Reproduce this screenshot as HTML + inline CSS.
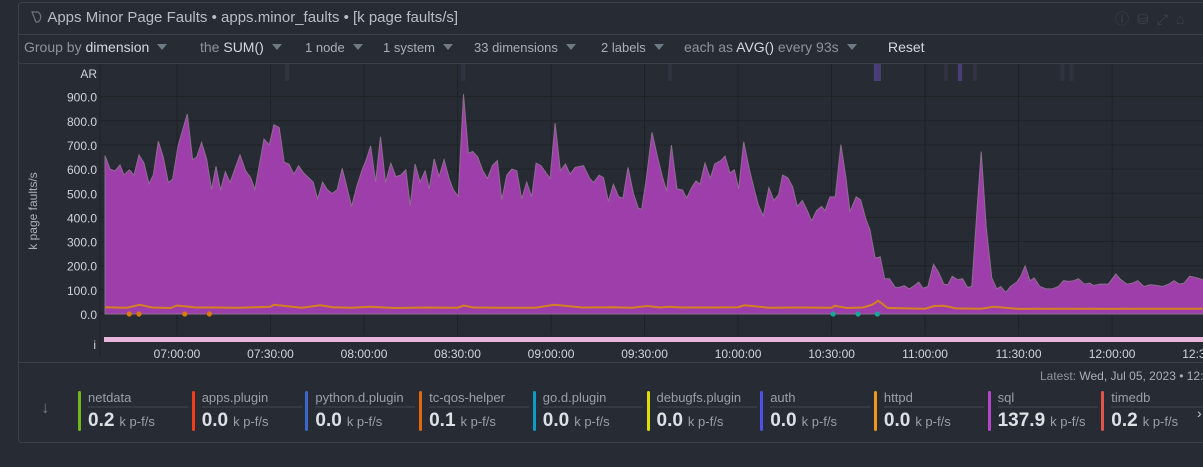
<!DOCTYPE html>
<html><head><meta charset="utf-8">
<style>
*{margin:0;padding:0;box-sizing:border-box}
body{width:1203px;height:467px;background:#272b33;font-family:"Liberation Sans",sans-serif;overflow:hidden;position:relative;color:#c9ced6}
.card{position:absolute;left:18px;top:2px;width:1200px;height:441px;border:1px solid #3b4049;border-radius:4px;background:#272b33}
.abs{position:absolute;white-space:nowrap}
.tb{font-size:14px;color:#8e949c;top:39px}
.tb b{font-weight:normal;color:#d5d9df}
.caret{display:inline-block;width:0;height:0;border-left:5px solid transparent;border-right:5px solid transparent;border-top:6px solid #6f7a85;margin-left:8px;vertical-align:2px}
.leg{position:absolute;top:390px;width:110px}
.leg .bar{position:absolute;left:0;top:1px;width:3px;height:40px;border-radius:2px}
.leg .nm{position:absolute;left:10px;top:0;font-size:13px;color:#9aa0a8;width:100px;border-bottom:2px solid #353a42;padding-bottom:1px}
.leg .vl{position:absolute;left:10px;top:20px;font-size:19px;font-weight:bold;color:#dde1e6}
.leg .vl span{font-size:13px;font-weight:normal;color:#9aa0a8;margin-left:5px}
</style></head><body>
<div class="card"></div>
<div class="abs" style="left:30px;top:9px;font-size:15px;color:#b9bec6">
<svg width="14" height="14" style="vertical-align:-2px"><path d="M2 2 L8 2 A6 6 0 0 1 8 12 L6 12 Z" fill="none" stroke="#6f757d" stroke-width="1.2"/></svg> Apps Minor Page Faults • apps.minor_faults • [k page faults/s]</div>
<div class="abs" style="left:1115px;top:9px;font-size:14px;color:#3f454d;letter-spacing:8px">ⓘ⛁⤢⌂</div>
<div class="abs" style="left:18px;top:34px;width:1185px;height:1px;background:#3b4049"></div>
<div class="abs" style="left:18px;top:63px;width:1185px;height:1px;background:#3b4049"></div>
<div class="abs tb" style="left:24px">Group by <b>dimension</b><span class="caret"></span></div>
<div class="abs tb" style="left:200px">the <b>SUM()</b><span class="caret"></span></div>
<div class="abs tb" style="left:305px;font-size:13px;top:40px;color:#aab0b8">1 node<span class="caret"></span></div>
<div class="abs tb" style="left:383px;font-size:13px;top:40px;color:#aab0b8">1 system<span class="caret"></span></div>
<div class="abs tb" style="left:474px;font-size:13px;top:40px;color:#aab0b8">33 dimensions<span class="caret"></span></div>
<div class="abs tb" style="left:601px;font-size:13px;top:40px;color:#aab0b8">2 labels<span class="caret"></span></div>
<div class="abs tb" style="left:684px">each as <b>AVG()</b> every 93s<span class="caret"></span></div>
<div class="abs tb" style="left:888px;color:#d5d9df">Reset</div>
<div class="abs" style="left:-17px;top:204px;font-size:12px;color:#aab0b8;transform:rotate(-90deg);width:100px;text-align:center">k page faults/s</div>
<svg id="ch" class="abs" style="left:0;top:0" width="1203" height="467"></svg>
<div class="abs" style="left:18px;top:362px;width:1185px;height:1px;background:#3b4049"></div>
<div class="abs" style="left:1040px;top:369px;font-size:12px;color:#8e949c">Latest: <span style="color:#aab0b8">Wed, Jul 05, 2023 • 12:36:25</span></div>
<div class="abs" style="left:41px;top:398px;font-size:17px;color:#6f7a85">↓</div>
<div id="legend"></div>
<div class="abs" style="left:1197px;top:405px;font-size:14px;color:#c9ced6">›</div>
<script>
// chart data (minutes relative to 07:00, values in k page faults/s)
const sqlTimes=[-23.1,-21.5,-19.9,-18.3,-17,-15.3,-13.8,-12.2,-10.6,-9,-7.6,-6,-4.4,-2.8,-1.4,0.4,3.3,5,6.3,7.9,9.5,11.1,12.5,14,15.5,17,20.2,22,23.6,25,27.9,29.6,31.1,32.8,34.4,35.9,37.5,39,40.5,43.7,45.1,46.7,48.2,49.8,51.4,53,54.4,56,57.7,59.3,60.9,62.1,63.7,65.3,66.9,68.6,70.2,71.8,73.4,74.8,76.4,78,79.6,80.9,82.5,84.1,85.7,87.3,88.6,90.2,91.9,93.5,94.9,96.5,98.1,99.6,101.2,102.8,104.2,105.8,107.4,109,110.6,112.2,113.8,115.2,116.8,119.7,121.3,123,124.6,126.1,127.7,130.4,132.4,133.7,135.4,136.8,138.4,140,141.7,143.1,144.7,146.4,148,149.1,150.7,152.4,154.2,155.8,157.1,158.6,160.4,162.2,163.5,165.1,166.5,167.8,169.4,171.1,172.5,174.5,175.8,177.4,178.8,180.2,181.8,183.6,185.2,186.5,188.1,189.9,191.5,193,194.3,195.9,197.5,199,200.6,202.2,203.6,205.2,206.8,207.9,209.5,211.2,213,214.6,215.9,217.9,219.3,221,222.3,224,225.6,227,228.6,230.4,231.7,233.3,234.9,236.6,238,239.3,240.9,242.7,244.3,246,247.3,248.7,250.4,252,253.6,255,256.6,258,259.6,261.4,263,264.3,265.9,267.4,269.4,270.7,272.1,273.7,275,276.8,278.8,280.8,282.8,284.4,286.1,287.7,289.2,291.1,292.8,294.1,296.1,298.8,301.2,302.8,304.8,306.6,308.2,310.2,312.2,314.6,316.2,318.2,319.9,321.5,323.1,324.9,326.6,329.3];
const sqlValues=[656,600,593,617,575,597,575,659,625,539,575,715,649,544,558,699,828,639,649,710,642,515,611,513,589,544,659,593,565,515,724,701,783,772,628,621,579,614,586,546,476,546,515,499,515,603,530,445,530,593,645,696,546,734,544,624,569,575,597,448,621,546,593,518,642,569,639,561,515,487,910,666,673,649,593,561,614,635,473,575,600,593,476,546,485,625,614,561,790,593,621,579,607,614,561,544,575,565,466,537,485,480,607,501,438,434,572,752,649,565,508,699,518,513,480,523,551,537,625,561,621,635,654,583,597,518,713,600,515,452,406,523,470,494,575,565,527,445,470,428,386,428,445,428,485,485,701,565,424,485,473,392,349,231,237,146,146,110,110,117,104,118,132,107,114,206,173,124,121,156,142,146,110,114,417,673,361,149,104,114,90,114,132,156,199,138,149,114,104,104,114,138,135,138,146,124,128,118,124,124,166,142,124,128,138,114,121,118,114,124,138,124,128,156,152,142];
const httpdTimes=[-23,-16,-12,-8,-2,0,6,12,20,30,31,40,46,50,56,62,70,80,90,92,95,105,115,121,130,140,146,151,155,158,162,170,180,182,190,200,210,211,215,220,223,225,228,240,243,246,250,258,262,270,285,300,315,329];
const httpdValues=[28,26,38,27,25,35,27,27,26,30,38,26,36,28,26,30,25,27,26,35,27,26,26,38,27,28,26,33,27,30,27,27,28,36,26,27,26,34,25,27,38,55,25,22,33,34,23,22,30,21,22,21,22,22];
const markerTimes=[-15.3,-12.2,2.5,10.4,210.5,218.5,224.7];
const markerKinds=["orange","orange","orange","orange","teal","teal","teal"];
const yTicks=[0,100,200,300,400,500,600,700,800,900];
const yTickLabels=["0.0","100.0","200.0","300.0","400.0","500.0","600.0","700.0","800.0","900.0"];
const xTicks=[0,30,60,90,120,150,180,210,240,270,300,330];
const xTickLabels=["07:00:00","07:30:00","08:00:00","08:30:00","09:00:00","09:30:00","10:00:00","10:30:00","11:00:00","11:30:00","12:00:00","12:30:00"];
const annTimes=[35.3,91.8,158.2,224.2,225.2,246.7,251.2,256,284,287];
const annStrong=[0,0,0,1,1,0,1,0,0,0];

const NS="http://www.w3.org/2000/svg";
const svg=document.getElementById('ch');
const X=t=>177+t*3.117;
const Y=v=>314-v*0.2415;
function mk(tag,attrs,parent){const e=document.createElementNS(NS,tag);for(const k in attrs)e.setAttribute(k,attrs[k]);(parent||svg).appendChild(e);return e;}
const fr=mk('line',{x1:100,y1:64,x2:100,y2:356,stroke:'#1f2227','stroke-width':1});


yTicks.forEach((v,i)=>{
  const g=mk('line',{x1:100,y1:Y(v),x2:1203,y2:Y(v),stroke:'#1f2227','stroke-width':1});
  
  
  const tx=mk('text',{x:97,y:Y(v)+5,'text-anchor':'end','font-size':12,fill:'#d0d4da','font-family':'Liberation Sans'});
  tx.textContent=yTickLabels[i];
  
  
});
xTicks.forEach((t,i)=>{
  const g=mk('line',{x1:X(t),y1:64,x2:X(t),y2:335,stroke:'#1f2227','stroke-width':1});
  
  
  const tx=mk('text',{x:X(t),y:358,'text-anchor':'middle','font-size':12,fill:'#d0d4da','font-family':'Liberation Sans'});
  tx.textContent=xTickLabels[i];
  
  
});
const ar=mk('text',{x:97,y:78,'text-anchor':'end','font-size':12,fill:'#d0d4da','font-family':'Liberation Sans'});
ar.textContent='AR';


annTimes.forEach((t,i)=>{
  const r=mk('rect',{x:X(t)-2,y:64,width:4,height:17,fill:annStrong[i]?'#4a3e78':'#30323f'});
  
  
});
let d=`M${X(sqlTimes[0])},${Y(0)}`;
sqlTimes.forEach((t,i)=>{d+=` L${X(t).toFixed(1)},${Y(sqlValues[i]).toFixed(1)}`;});
d+=` L${X(sqlTimes[sqlTimes.length-1])},${Y(0)} Z`;
const area=mk('path',{d:d,fill:'#9e3eab',stroke:'#8d6f8f','stroke-width':1});


let d2='';
httpdTimes.forEach((t,i)=>{d2+=(i?' L':'M')+X(t).toFixed(1)+','+Y(httpdValues[i]).toFixed(1);});
const ln=mk('path',{d:d2,fill:'none',stroke:'#d98a12','stroke-width':2,opacity:0.9});


markerTimes.forEach((t,i)=>{
  const c=mk('circle',{cx:X(t),cy:Y(0),r:2.6,fill:markerKinds[i]==='teal'?'#1aa59a':'#d97a0c'});
  
  
});
const st=mk('rect',{x:104,y:337,width:1099,height:5,fill:'#e8b6dc'});


const il=mk('text',{x:96,y:349,'text-anchor':'end','font-size':12,fill:'#d0d4da','font-family':'Liberation Sans'});
il.textContent='i';



const legNames=["netdata","apps.plugin","python.d.plugin","tc-qos-helper","go.d.plugin","debugfs.plugin","auth","httpd","sql","timedb"];
const legValues=["0.2","0.0","0.0","0.1","0.0","0.0","0.0","0.0","137.9","0.2"];
const legColors=["#74b71b","#f23d1b","#3a67c9","#e0690c","#0b9bc4","#dede00","#5050e8","#f0961a","#b445c8","#e5534b"];
const lg=document.getElementById('legend');
legNames.forEach((n,i)=>{
  const el=document.createElement('div');
  el.className='leg';
  el.style.left=(78+i*113.7)+'px';
  
  
  el.innerHTML=`<div class="bar" style="background:${legColors[i]}"></div><div class="nm">${n}</div><div class="vl">${legValues[i]}<span>k p-f/s</span></div>`;
  lg.appendChild(el);
});
</script>
</body></html>
